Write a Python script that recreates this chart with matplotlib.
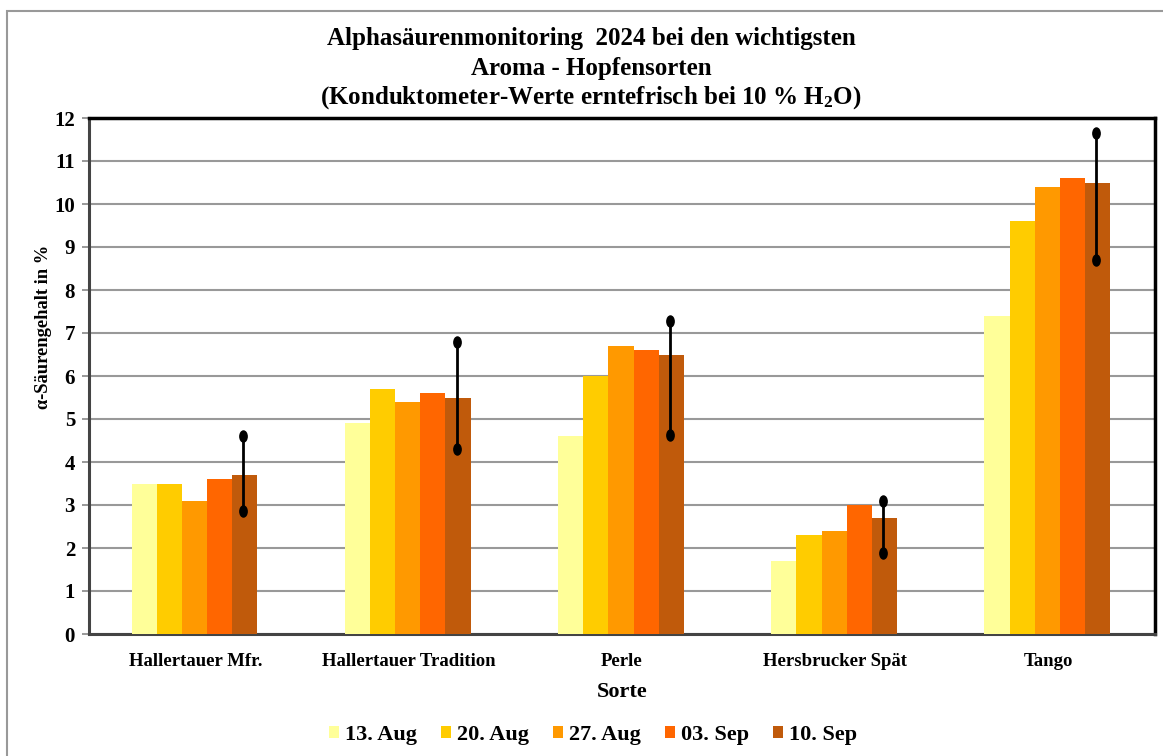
import matplotlib
matplotlib.use("Agg")
import matplotlib.pyplot as plt
import numpy as np
from matplotlib.patches import Rectangle
from matplotlib.path import Path
from matplotlib.transforms import Affine2D

plt.rcParams['font.family'] = ['Liberation Serif', 'DejaVu Serif']
plt.rcParams['font.weight'] = 'bold'
plt.rcParams['mathtext.fontset'] = 'custom'
plt.rcParams['mathtext.rm'] = 'Liberation Serif:bold'
plt.rcParams['mathtext.bf'] = 'Liberation Serif:bold'
plt.rcParams['mathtext.it'] = 'Liberation Serif:bold'

categories = ["Hallertauer Mfr.", "Hallertauer Tradition", "Perle", "Hersbrucker Spät", "Tango"]
dates = ["13. Aug", "20. Aug", "27. Aug", "03. Sep", "10. Sep"]
values = {
    "13. Aug": [3.5, 4.9, 4.6, 1.7, 7.4],
    "20. Aug": [3.5, 5.7, 6.0, 2.3, 9.6],
    "27. Aug": [3.1, 5.4, 6.7, 2.4, 10.4],
    "03. Sep": [3.6, 5.6, 6.6, 3.0, 10.6],
    "10. Sep": [3.7, 5.5, 6.5, 2.7, 10.5],
}
range_low = [2.85, 4.30, 4.63, 1.88, 8.70]
range_high = [4.60, 6.78, 7.28, 3.10, 11.65]
colors = ["#FFFF99", "#FFCC00", "#FF9900", "#FF6600", "#C05A0B"]

fig = plt.figure(figsize=(11.63, 7.56), dpi=100)
ax = fig.add_axes([89/1163, 1-634/756, (1155-89)/1163, (634-118)/756])

# outer chart border
fig.patches.append(Rectangle((7/1163, -0.1), 1.2, 0.1 + (756-11)/756, transform=fig.transFigure,
                             facecolor='none', edgecolor='#999999', linewidth=1.5))

x = np.arange(len(categories))
bw = 0.118
for i, (d, c) in enumerate(zip(dates, colors)):
    ax.bar(x + (i - 2) * bw - 0.005, values[d], width=bw, color=c, label=d, zorder=3,
           edgecolor='none')

ellipse = Path.unit_circle().transformed(Affine2D().scale(0.7, 1.0))
ex = x + 2 * bw - 0.012
for xi, lo, hi in zip(ex, range_low, range_high):
    ax.plot([xi, xi], [lo, hi], color='black', lw=2, zorder=4,
            marker=ellipse, markersize=9, markeredgewidth=0)

ax.set_xlim(-0.5, 4.5)
ax.set_ylim(0, 12)
ax.set_yticks(range(0, 13))
ax.yaxis.grid(True, color='#999999', linewidth=1.5, zorder=0)
ax.set_axisbelow(True)
ax.set_xticks(x)
ax.set_xticklabels(categories, fontsize=13.5, fontweight='bold')
ax.tick_params(axis='x', length=0, pad=14)
ax.tick_params(axis='y', length=5, color='#888888', width=1.2, labelsize=15, pad=5)
for lab in ax.get_yticklabels():
    lab.set_fontweight('bold')

for s in ['top', 'right']:
    ax.spines[s].set_color('black')
    ax.spines[s].set_linewidth(2.5)
for s in ['left', 'bottom']:
    ax.spines[s].set_color('#444444')
    ax.spines[s].set_linewidth(2.2)

ax.set_ylabel("α-Säurengehalt in %", fontsize=13.3, fontweight='bold')
ax.yaxis.set_label_coords(-0.035, 0.595)
ax.set_xlabel("Sorte", fontsize=16, fontweight='bold', labelpad=8)

fig.text(591/1163, 1-38/756, "Alphasäurenmonitoring  2024 bei den wichtigsten",
         ha='center', va='center', fontsize=18, fontweight='bold')
fig.text(591/1163, 1-68/756, "Aroma - Hopfensorten",
         ha='center', va='center', fontsize=18, fontweight='bold')
fig.text(591/1163, 1-98/756, r"(Konduktometer-Werte erntefrisch bei 10 % H$_{2}$O)",
         ha='center', va='center', fontsize=18, fontweight='bold')

leg = ax.legend(loc='center', bbox_to_anchor=(593/1163, 1-735/756), bbox_transform=fig.transFigure,
                ncol=5, frameon=False, fontsize=16, handlelength=0.45, handleheight=0.45,
                handletextpad=0.25, columnspacing=1.1)
for t in leg.get_texts():
    t.set_fontweight('bold')

fig.savefig("out.png", dpi=100)
